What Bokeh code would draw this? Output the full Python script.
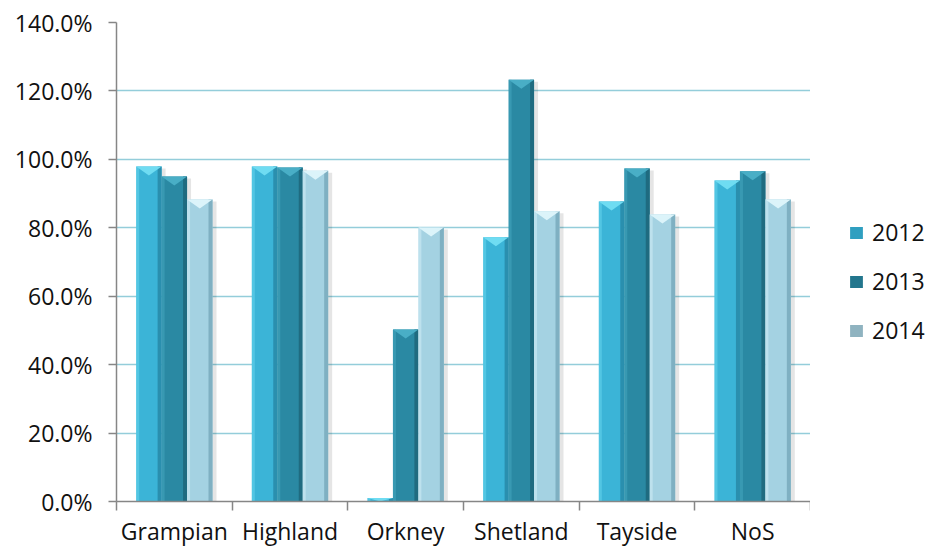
import numpy as np
from bokeh.plotting import figure
from bokeh.layouts import row
from bokeh.models import (Range1d, FixedTicker, PrintfTickFormatter, Legend,
                          LegendItem, ColumnDataSource)
from bokeh.embed import file_html
from bokeh.resources import INLINE

# Regional values (percent) by year
categories = ["Grampian", "Highland", "Orkney", "Shetland", "Tayside", "NoS"]
years = ["2012", "2013", "2014"]
v2012 = [97.9, 97.9, 1.0, 77.2, 87.7, 93.8]
v2013 = [95.0, 97.6, 50.3, 123.3, 97.3, 96.5]
v2014 = [88.3, 96.7, 80.1, 84.8, 83.9, 88.3]
y_ticks = [0, 20, 40, 60, 80, 100, 120, 140]

series = [v2012, v2013, v2014]
main_colors = ["#3bb4d7", "#2a89a3", "#a4d2e2"]
edge_colors = ["#2a8fae", "#1f6b80", "#7fb0c2"]
cap_colors = ["#6fdcf2", "#49aec6", "#dcf4fa"]
swatch_colors = ["#2f9fc0", "#23768d", "#8fb3c0"]

FONT = "Open Sans"
n = len(categories)
centers = np.arange(n) + 0.5
bar_w = 0.22
offsets = [-bar_w, 0.0, bar_w]

p = figure(width=810, height=549, output_backend="svg", toolbar_location=None,
           x_range=Range1d(0, n), y_range=Range1d(0, 140),
           min_border_left=116, min_border_right=0,
           min_border_top=22, min_border_bottom=48)
p.outline_line_color = None
p.background_fill_color = "white"
p.border_fill_color = "white"

# Grid
p.xgrid.grid_line_color = None
p.ygrid.grid_line_color = "#94cdda"
p.ygrid.grid_line_width = 1.6
p.ygrid.ticker = FixedTicker(ticks=y_ticks)

# Y axis
p.yaxis.ticker = FixedTicker(ticks=y_ticks)
p.yaxis.formatter = PrintfTickFormatter(format="%.1f%%")
p.yaxis.axis_line_color = "#868686"
p.yaxis.axis_line_width = 1.5
p.yaxis.major_tick_line_color = "#868686"
p.yaxis.major_tick_line_width = 1.5
p.yaxis.major_tick_out = 8
p.yaxis.major_tick_in = 0
p.yaxis.minor_tick_line_color = None
p.yaxis.major_label_standoff = 16
p.yaxis.major_label_text_font = FONT
p.yaxis.major_label_text_font_size = "23px"
p.yaxis.major_label_text_color = "#111111"

# X axis: labels at category centres, ticks at category boundaries
p.xaxis.ticker = FixedTicker(ticks=list(centers), minor_ticks=list(range(n + 1)))
p.xaxis.major_label_overrides = {float(c): name for c, name in zip(centers, categories)}
p.xaxis.axis_line_color = "#868686"
p.xaxis.axis_line_width = 1.5
p.xaxis.major_tick_line_color = None
p.xaxis.major_tick_out = 0
p.xaxis.major_tick_in = 0
p.xaxis.minor_tick_line_color = "#868686"
p.xaxis.minor_tick_line_width = 1.5
p.xaxis.minor_tick_out = 9
p.xaxis.minor_tick_in = 0
p.xaxis.major_label_standoff = 4
p.xaxis.major_label_text_font = FONT
p.xaxis.major_label_text_font_size = "23px"
p.xaxis.major_label_text_color = "#111111"

px_x = n / 694.0      # data units per pixel horizontally
px_y = 140 / 479.0    # data units per pixel vertically

for k, vals in enumerate(series):
    xs = centers + offsets[k]
    tops = np.array(vals, dtype=float)
    # soft shadow to the right
    p.vbar(x=xs + 4 * px_x, top=np.maximum(tops - 2 * px_y, 0), width=bar_w,
           fill_color="#000000", fill_alpha=0.10, line_color=None)
for k, vals in enumerate(series):
    xs = centers + offsets[k]
    tops = np.array(vals, dtype=float)
    src = ColumnDataSource(dict(x=xs, top=tops))
    p.vbar(x="x", top="top", width=bar_w, source=src,
           fill_color=main_colors[k], line_color=None)
    # darker right bevel edge
    p.vbar(x=xs + bar_w / 2 - 2 * px_x, top=tops, width=4 * px_x,
           fill_color=edge_colors[k], line_color=None)
    # lighter left bevel edge
    p.vbar(x=xs - bar_w / 2 + 1.5 * px_x, top=tops, width=3 * px_x,
           fill_color=cap_colors[k], fill_alpha=0.45, line_color=None)
    # chevron cap on top of each bar
    depth = np.minimum(9 * px_y, tops)
    cap_xs = [[x - bar_w / 2, x + bar_w / 2, x] for x in xs]
    cap_ys = [[t, t, t - d] for t, d in zip(tops, depth)]
    p.patches(xs=cap_xs, ys=cap_ys, fill_color=cap_colors[k], line_color=None)

# Legend panel to the right of the chart; its swatch renderers sit outside
# the panel's visible range so only the legend entries show
lg = figure(width=120, height=549, output_backend="svg", toolbar_location=None,
            x_range=Range1d(0, 1), y_range=Range1d(0, 1),
            x_axis_location=None, y_axis_location=None, min_border=0)
lg.outline_line_color = None
lg.grid.visible = False
lg.border_fill_color = "white"
items = []
for k, yr in enumerate(years):
    r = lg.vbar(x=[5], top=[1], width=1, fill_color=swatch_colors[k], line_color=None)
    items.append(LegendItem(label=yr, renderers=[r]))
legend = Legend(items=items, location=(38, 155),
                orientation="vertical", spacing=17, padding=4,
                glyph_width=16, glyph_height=15, label_height=28,
                label_standoff=8, label_text_font=FONT,
                label_text_font_size="23px", label_text_color="#111111",
                background_fill_alpha=0, border_line_color=None, margin=0)
lg.add_layout(legend, "center")

layout = row(p, lg, spacing=0)
open("out.html", "w").write(file_html(layout, INLINE))
